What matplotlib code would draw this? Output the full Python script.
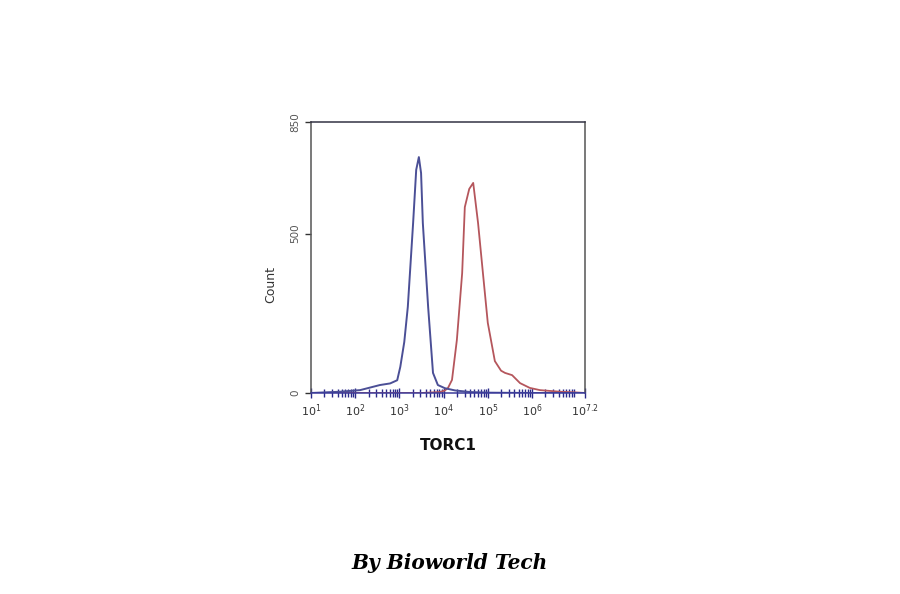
import matplotlib
matplotlib.use("Agg")
import matplotlib.pyplot as plt
import numpy as np
from matplotlib.ticker import LogLocator, NullFormatter

# histogram outlines (x in log10 units, y in counts)
blue_log = [1.0, 1.32, 1.66, 2.11, 2.56, 2.79, 2.95, 3.02, 3.11, 3.19, 3.31, 3.38,
            3.44, 3.49, 3.53, 3.65, 3.76, 3.87, 4.03, 4.26, 4.60, 5.05, 6.0, 7.2]
blue_count = [0, 2, 4, 9, 25, 30, 40, 82, 160, 270, 533, 700,
              740, 690, 533, 270, 63, 25, 15, 8, 3, 1, 0, 0]

red_log = [1.0, 3.5, 3.92, 4.03, 4.10, 4.19, 4.30, 4.42, 4.48, 4.58, 4.67, 4.78,
           4.89, 5.00, 5.16, 5.30, 5.39, 5.55, 5.73, 5.95, 6.18, 6.63, 6.97, 7.2]
red_count = [0, 0, 3, 8, 16, 41, 166, 376, 583, 640, 659, 533,
             376, 220, 100, 70, 63, 56, 31, 16, 9, 4, 2, 0]

xtick_exp = [1, 2, 3, 4, 5, 6, 7.2]
xtick_labels = ["$10^{1}$", "$10^{2}$", "$10^{3}$", "$10^{4}$", "$10^{5}$", "$10^{6}$", "$10^{7.2}$"]
ytick_vals = [0, 500, 850]

fig = plt.figure(figsize=(9, 5.94), dpi=100)
ax = fig.add_axes([0.3456, 0.3384, 0.3044, 0.4562])

ax.plot(10 ** np.array(red_log), red_count, color="#b5565c", linewidth=1.3)
ax.plot(10 ** np.array(blue_log), blue_count, color="#4b4f96", linewidth=1.4)

ax.set_xscale("log")
ax.set_xlim(10 ** 1, 10 ** 7.2)
ax.set_ylim(0, 850)

ax.set_xticks([10 ** e for e in xtick_exp])
ax.set_xticklabels(xtick_labels, fontsize=8, color="#333333")
ax.xaxis.set_minor_locator(LogLocator(base=10, subs=np.arange(2, 10), numticks=20))
ax.xaxis.set_minor_formatter(NullFormatter())
ax.tick_params(axis="x", which="major", direction="inout", length=7, width=1.0, color="#2a2a8a", pad=3)
ax.tick_params(axis="x", which="minor", direction="inout", length=6, width=1.0, color="#2a2a8a")

ax.set_yticks(ytick_vals)
ax.set_yticklabels([str(v) for v in ytick_vals], rotation=90, va="center", fontsize=7.5, color="#555555")
ax.tick_params(axis="y", direction="out", length=4, width=1.0, color="#333333", pad=4)

for side in ["left", "right"]:
    ax.spines[side].set_color("#555555")
ax.spines["top"].set_color("#333344")
ax.spines["bottom"].set_color("#3a3a9a")
for spine in ax.spines.values():
    spine.set_linewidth(1.1)

ax.set_ylabel("Count", fontsize=9, color="#333333")
ax.yaxis.set_label_coords(-0.125, 0.40)
ax.set_xlabel("TORC1", fontsize=11, fontweight="bold", color="#111111", labelpad=14)

fig.text(0.5, 1 - 563 / 594, "By Bioworld Tech", ha="center", va="center",
         fontsize=14.5, fontstyle="italic", fontweight="bold", family="DejaVu Serif")

fig.savefig("out.png", dpi=100, facecolor="white")
